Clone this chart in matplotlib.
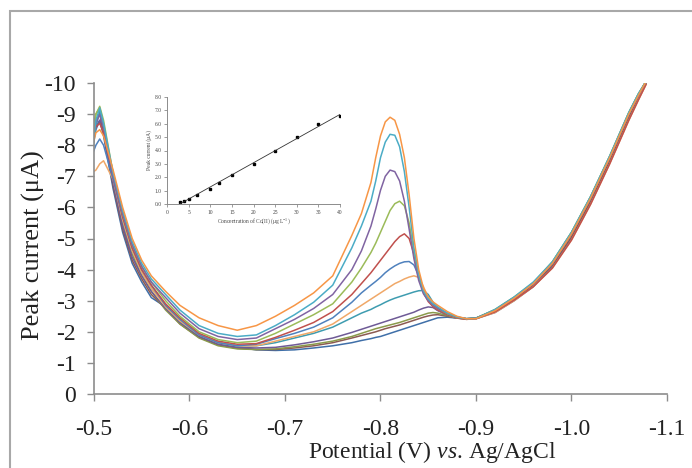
import numpy as np
import matplotlib
matplotlib.use("Agg")
from matplotlib import pyplot as plt
from matplotlib.patches import Rectangle

plt.rcParams['font.family'] = ['Liberation Serif', 'DejaVu Serif']
plt.rcParams['mathtext.fontset'] = 'custom'
plt.rcParams['mathtext.rm'] = 'Liberation Serif'
plt.rcParams['mathtext.it'] = 'Liberation Serif:italic'

# potential grid (V vs Ag/AgCl)
potential = [-0.497, -0.502, -0.506, -0.51, -0.52, -0.53, -0.54, -0.55, -0.56,
             -0.575, -0.59, -0.61, -0.63, -0.65, -0.67, -0.69, -0.71, -0.73, -0.75, -0.77, -0.78,
             -0.79, -0.795, -0.80, -0.805, -0.81, -0.815, -0.82, -0.825, -0.83, -0.835, -0.84, -0.845, -0.85, -0.855, -0.86,
             -0.87, -0.88, -0.89, -0.90, -0.92, -0.94, -0.96, -0.98, -1.00, -1.02, -1.04, -1.06, -1.07, -1.078]

# currents (uA), lowest concentration first
c01 = [-7.9, -8.6, -8.8, -8.3, -6.6, -5.2, -4.2, -3.6, -3.1,
       -2.8, -2.3, -1.85, -1.6, -1.5, -1.42, -1.4, -1.42, -1.48, -1.55, -1.65, -1.72,
       -1.78, -1.82, -1.85, -1.9, -1.95, -2.0, -2.05, -2.1, -2.15, -2.2, -2.25, -2.3, -2.35, -2.4, -2.45,
       -2.47, -2.44, -2.41, -2.42, -2.62, -3.0, -3.45, -4.1, -5.0, -6.15, -7.45, -8.85, -9.5, -10.0]
c02 = [-8.1, -8.8, -9.0, -8.4, -6.7, -5.3, -4.3, -3.7, -3.2,
       -2.75, -2.25, -1.82, -1.58, -1.47, -1.43, -1.43, -1.48, -1.55, -1.65, -1.8, -1.88,
       -1.96, -2.0, -2.05, -2.1, -2.14, -2.18, -2.22, -2.27, -2.32, -2.37, -2.42, -2.47, -2.51, -2.54, -2.55,
       -2.5, -2.44, -2.41, -2.43, -2.65, -3.05, -3.5, -4.15, -5.05, -6.2, -7.5, -8.9, -9.55, -10.0]
c03 = [-8.2, -9.0, -9.2, -8.6, -6.9, -5.5, -4.5, -3.8, -3.3,
       -2.7, -2.25, -1.8, -1.55, -1.45, -1.43, -1.45, -1.52, -1.6, -1.7, -1.85, -1.95,
       -2.05, -2.1, -2.14, -2.18, -2.22, -2.26, -2.3, -2.35, -2.4, -2.45, -2.5, -2.55, -2.6, -2.62, -2.6,
       -2.52, -2.45, -2.42, -2.44, -2.7, -3.1, -3.55, -4.2, -5.15, -6.3, -7.6, -9.0, -9.6, -10.05]
c04 = [-7.8, -8.5, -8.8, -8.4, -6.8, -5.4, -4.4, -3.8, -3.3,
       -2.75, -2.3, -1.85, -1.6, -1.5, -1.48, -1.5, -1.58, -1.68, -1.8, -1.98, -2.08,
       -2.18, -2.23, -2.28, -2.33, -2.38, -2.43, -2.48, -2.53, -2.58, -2.63, -2.7, -2.76, -2.8, -2.78, -2.68,
       -2.54, -2.46, -2.42, -2.44, -2.68, -3.08, -3.55, -4.2, -5.15, -6.3, -7.6, -9.0, -9.6, -10.05]
c05 = [-7.4, -8.6, -9.1, -8.6, -7.0, -5.6, -4.6, -3.9, -3.4,
       -2.85, -2.35, -1.9, -1.65, -1.55, -1.55, -1.65, -1.8, -1.95, -2.15, -2.45, -2.6,
       -2.72, -2.8, -2.87, -2.95, -3.02, -3.08, -3.13, -3.18, -3.23, -3.28, -3.32, -3.33, -3.2, -2.95, -2.75,
       -2.56, -2.46, -2.42, -2.44, -2.7, -3.1, -3.55, -4.25, -5.2, -6.35, -7.65, -9.05, -9.65, -10.05]
c06 = [-7.1, -7.2, -7.4, -7.5, -6.9, -5.6, -4.6, -3.9, -3.4,
       -2.8, -2.35, -1.9, -1.65, -1.55, -1.55, -1.7, -1.85, -2.0, -2.25, -2.65, -2.85,
       -3.05, -3.15, -3.25, -3.35, -3.45, -3.55, -3.62, -3.7, -3.76, -3.8, -3.75, -3.45, -3.1, -2.85, -2.72,
       -2.55, -2.45, -2.4, -2.42, -2.62, -3.0, -3.45, -4.05, -4.95, -6.1, -7.4, -8.8, -9.45, -9.95]
c07 = [-7.6, -8.0, -8.2, -8.0, -6.9, -5.7, -4.7, -4.0, -3.5,
       -2.85, -2.4, -1.9, -1.65, -1.55, -1.6, -1.78, -1.95, -2.15, -2.45, -2.95, -3.25,
       -3.5, -3.62, -3.75, -3.9, -4.02, -4.12, -4.2, -4.25, -4.26, -4.15, -3.8, -3.35, -3.02, -2.83, -2.7,
       -2.55, -2.46, -2.42, -2.44, -2.7, -3.1, -3.55, -4.2, -5.15, -6.3, -7.6, -9.0, -9.6, -10.05]
c08 = [-8.3, -8.6, -8.7, -8.4, -7.0, -5.7, -4.7, -4.0, -3.5,
       -2.9, -2.45, -1.95, -1.7, -1.6, -1.62, -1.82, -2.05, -2.3, -2.65, -3.2, -3.55,
       -3.9, -4.1, -4.3, -4.5, -4.7, -4.9, -5.06, -5.15, -5.0, -4.5, -3.8, -3.25, -2.97, -2.81, -2.7,
       -2.55, -2.45, -2.4, -2.42, -2.64, -3.02, -3.45, -4.05, -4.95, -6.1, -7.4, -8.8, -9.45, -9.95]
c09 = [-8.2, -9.0, -9.25, -8.8, -7.1, -5.8, -4.8, -4.1, -3.6,
       -3.0, -2.5, -2.0, -1.75, -1.65, -1.7, -1.95, -2.25, -2.55, -2.9, -3.6, -4.05,
       -4.55, -4.85, -5.2, -5.55, -5.9, -6.12, -6.2, -6.05, -5.5, -4.6, -3.8, -3.28, -3.02, -2.86, -2.75,
       -2.58, -2.47, -2.42, -2.44, -2.72, -3.12, -3.58, -4.25, -5.2, -6.35, -7.65, -9.05, -9.65, -10.05]
c10 = [-8.0, -8.7, -9.0, -8.6, -7.0, -5.8, -4.8, -4.1, -3.6,
       -3.1, -2.6, -2.1, -1.85, -1.75, -1.8, -2.1, -2.4, -2.75, -3.2, -4.0, -4.6,
       -5.4, -5.95, -6.55, -7.0, -7.2, -7.15, -6.85, -6.2, -5.3, -4.35, -3.65, -3.22, -3.0, -2.86, -2.75,
       -2.6, -2.48, -2.42, -2.43, -2.7, -3.1, -3.55, -4.2, -5.15, -6.3, -7.6, -9.0, -9.6, -10.05]
c11 = [-7.5, -8.8, -9.2, -8.7, -7.1, -5.9, -4.9, -4.2, -3.7,
       -3.2, -2.7, -2.2, -1.95, -1.85, -1.9, -2.2, -2.55, -2.95, -3.5, -4.7, -5.4,
       -6.2, -6.85, -7.6, -8.1, -8.35, -8.32, -7.95, -7.15, -6.0, -4.7, -3.85, -3.32, -3.06, -2.9, -2.8,
       -2.6, -2.48, -2.42, -2.43, -2.72, -3.12, -3.6, -4.25, -5.2, -6.35, -7.65, -9.05, -9.65, -10.05]
c12 = [-7.8, -8.4, -8.5, -8.3, -7.2, -6.0, -5.0, -4.3, -3.8,
       -3.3, -2.85, -2.45, -2.2, -2.05, -2.2, -2.5, -2.85, -3.25, -3.8, -5.1, -5.8,
       -6.8, -7.6, -8.3, -8.75, -8.9, -8.8, -8.35, -7.6, -6.4, -5.0, -4.0, -3.4, -3.12, -2.96, -2.85,
       -2.65, -2.5, -2.42, -2.42, -2.68, -3.08, -3.55, -4.2, -5.15, -6.3, -7.6, -9.0, -9.6, -10.05]
curves = [c01, c02, c03, c04, c05, c06, c07, c08, c09, c10, c11, c12]
colors = ['#3f6fa8', '#8c5a52', '#8a9a4a', '#6e5a96', '#3e9cb0', '#f0a868',
          '#4f81bd', '#c0504d', '#9bbb59', '#8064a2', '#4bacc6', '#f79646']

# calibration inset
conc = [3, 4, 5, 7, 10, 12, 15, 20, 25, 30, 35, 40]
peak = [0.15, 0.25, 0.4, 0.65, 1.15, 1.6, 2.15, 3.0, 3.95, 5.0, 6.0, 6.55]

fig = plt.figure(figsize=(6.92, 4.68), dpi=100)
fig.patches.append(Rectangle((10 / 692, -0.1), 1.2, (457 / 468) + 0.1, transform=fig.transFigure,
                             fill=False, edgecolor='#a8a8a8', lw=1.5))

ax = fig.add_axes([94 / 692, 74 / 468, 573 / 692, 311 / 468])
for c, col in zip(curves, colors):
    assert len(c) == len(potential)
    ax.plot(potential, c, color=col, lw=1.1)

ax.set_xlim(-0.5, -1.1)
ax.set_ylim(0, -10)
ax.set_xticks(np.arange(-0.5, -1.15, -0.1))
ax.set_xticklabels(['-0.5', '-0.6', '-0.7', '-0.8', '-0.9', '-1.0', '-1.1'])
ax.set_yticks(range(0, -11, -1))
ax.set_yticklabels(['0'] + [str(-i) for i in range(1, 11)])
for s in ['top', 'right']:
    ax.spines[s].set_visible(False)
for s in ['left', 'bottom']:
    ax.spines[s].set_color('#8c8c8c')
    ax.spines[s].set_linewidth(1.2)
ax.tick_params(axis='both', direction='out', color='#8c8c8c', width=1.0, length=5,
               labelsize=17, labelcolor='#222222')
ax.tick_params(axis='x', pad=13)
ax.tick_params(axis='y', pad=8)
ax.set_xlabel('Potential (V) $\\mathit{vs}$. Ag/AgCl', fontsize=17, color='#222222')
ax.xaxis.set_label_coords(0.59, -0.145)
ax.set_ylabel('Peak current (μA)', fontsize=19, color='#222222')
ax.yaxis.set_label_coords(-0.085, 0.48)

ins = fig.add_axes([167 / 692, (468 - 204) / 468, 173 / 692, 107 / 468])
ins.plot(conc, peak, 's', color='black', ms=1.6)
fit = np.polyfit(conc, peak, 1)
xf = np.array([conc[0], conc[-1]])
ins.plot(xf, np.polyval(fit, xf), color='#333333', lw=0.6)
ins.set_xlim(0, 40)
ins.set_ylim(0, 8)
ins.set_xticks(range(0, 45, 5))
ins.set_yticks(np.arange(0, 8.5, 1.0))
ins.set_yticklabels(['%.1f' % v for v in np.arange(0, 8.5, 1.0)])
for s in ['top', 'right']:
    ins.spines[s].set_visible(False)
for s in ['left', 'bottom']:
    ins.spines[s].set_color('#8c8c8c')
    ins.spines[s].set_linewidth(0.7)
ins.tick_params(direction='out', color='#8c8c8c', length=2, width=0.6, labelsize=4,
                labelcolor='#444444', pad=2)
ins.set_xlabel('Concentration of Cd(II) (μg L$^{-1}$)', fontsize=4, color='#444444', labelpad=1)
ins.set_ylabel('Peak current (μA)', fontsize=4, color='#444444', labelpad=2)
ins.patch.set_alpha(0)

fig.savefig('out.png', dpi=100)
